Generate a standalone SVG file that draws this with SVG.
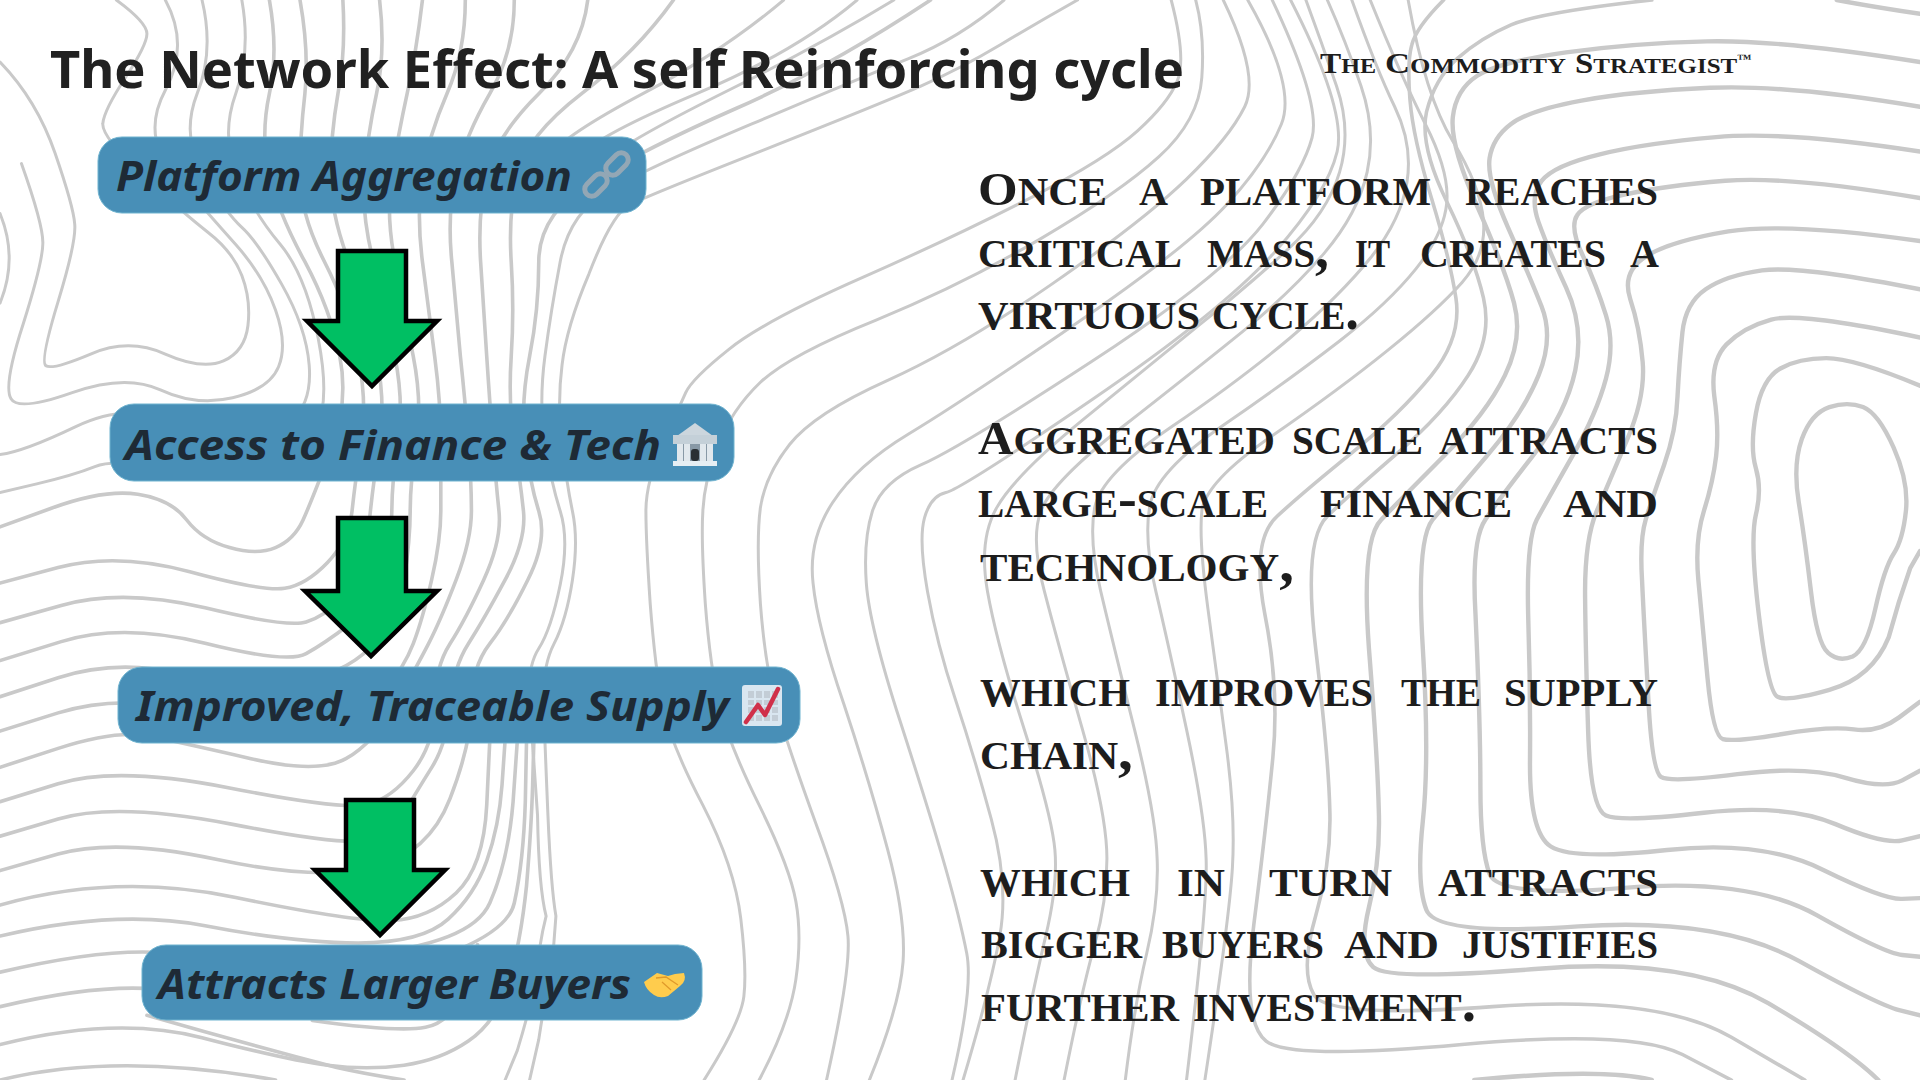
<svg xmlns="http://www.w3.org/2000/svg" width="1920" height="1080" viewBox="0 0 1920 1080">
<style>
.bgl{fill:none;stroke:#c9c9c9;stroke-width:3;vector-effect:non-scaling-stroke;stroke-linecap:round}
.k{stroke-width:3.6}
.h{stroke-width:4.4}
.t{font-family:"Noto Sans","Open Sans",sans-serif;font-weight:700;fill:#212121}
.lab{font-family:"Noto Sans","Open Sans",sans-serif;font-weight:700;font-style:italic;font-size:41px;fill:#1e2a35}
.box{fill:#488fb7;stroke:#6fb3cf;stroke-width:1}
.arr{fill:#00bf63;stroke:#000;stroke-width:4.5;stroke-linejoin:miter}
.b{font-family:"Liberation Serif",serif;font-weight:700;font-size:56px;font-variant:small-caps;fill:#1d1d1d}
.c{font-size:47px}
.br{font-family:"Liberation Serif",serif;font-weight:700;font-size:32px;font-variant:small-caps;fill:#1d1d1d}
.bc{font-size:29px}
.tm{font-size:13px}
</style>
<rect width="1920" height="1080" fill="#fff"/>
<g id="background" transform="scale(0.61224,0.34439)">
<path class="bgl" d="M190 0Q240 65 240 98 240 130 205 225 170 320 168 358 165 395 232 508 300 620 340 675 380 730 395 800 410 870 405 945 400 1020 365 1048 330 1075 270 1028 210 980 148 1028 85 1075 75 1062 65 1050 95 875 125 700 122 650 120 600 90 445 60 290 0 180"/>
<path class="bgl" d="M270 0Q310 130 270 262 230 395 285 508 340 620 385 710 430 800 450 900 470 1000 455 1065 440 1130 380 1155 320 1180 262 1132 205 1085 118 1140 30 1195 18 1158 5 1120 38 940 70 760 70 705 70 650 35 475 0 300"/>
<path class="bgl" d="M0 620Q30 750 0 880"/>
<path class="bgl" d="M330 0Q350 150 322 272 295 395 332 508 370 620 395 660 420 700 460 825 500 950 505 1060 510 1170 475 1225 440 1280 380 1275 320 1270 262 1220 205 1170 122 1240 40 1310 0 1320"/>
<path class="bgl" d="M395 0Q410 150 385 272 360 395 388 508 415 620 458 710 500 800 520 985 540 1170 515 1250 490 1330 435 1365 380 1400 285 1365 190 1330 155 1355 120 1380 60 1405L0 1430"/>
<path class="bgl k" d="M440 0Q455 150 440 272 425 395 440 508 455 620 498 760 540 900 555 1035 570 1170 540 1310 510 1450 495 1510 480 1568 450 1590 420 1613 375 1590 330 1568 305 1510 280 1450 225 1435 170 1420 85 1475L0 1530"/>
<path class="bgl k" d="M490 0Q505 150 498 272 490 395 490 508 490 620 530 760 570 900 585 1035 600 1170 590 1285 580 1400 575 1484 570 1568 535 1633 500 1698 465 1708 430 1718 310 1660 190 1603 95 1648L0 1693"/>
<path class="bgl k" d="M560 0Q565 150 552 272 540 395 540 508 540 620 570 760 600 900 615 1035 630 1170 620 1285 610 1400 605 1484 600 1568 595 1624 590 1680 560 1735 530 1790 500 1806 470 1823 335 1765 200 1708 100 1758L0 1808"/>
<path class="bgl k" d="M620 0Q630 150 615 272 600 395 595 508 590 620 610 760 630 900 645 1035 660 1170 650 1285 640 1400 640 1484 640 1568 625 1664 610 1760 570 1814 530 1868 500 1898 470 1928 335 1868 200 1808 100 1863L0 1918"/>
<path class="bgl k" d="M690 0Q680 150 665 272 650 395 640 508 630 620 645 760 660 900 675 1035 690 1170 680 1285 670 1400 670 1484 670 1568 660 1684 650 1800 605 1880 560 1960 480 1980 400 2000 295 1956 190 1913 95 1968L0 2023"/>
<path class="bgl k" d="M760 0Q760 150 730 272 700 395 690 508 680 620 690 760 700 900 710 1035 720 1170 720 1285 720 1400 720 1484 720 1568 705 1684 690 1800 675 1869 660 1938 630 2000 600 2060 500 2080 400 2100 295 2059 190 2018 95 2070L0 2123"/>
<path class="bgl k" d="M840 0Q840 150 800 272 760 395 745 508 730 620 738 760 745 900 752 1035 760 1170 765 1285 770 1400 770 1484 770 1568 745 1684 720 1800 700 1869 680 1938 645 2048 610 2158 565 2203 520 2248 410 2203 300 2158 245 2138 190 2118 95 2173L0 2228"/>
<path class="bgl k" d="M960 0Q950 150 880 272 810 395 795 508 780 620 785 760 790 900 795 1035 800 1170 805 1285 810 1400 815 1484 820 1568 790 1684 760 1800 735 1869 710 1938 710 2048 710 2158 675 2238 640 2318 600 2336 560 2353 375 2288 190 2223 95 2276L0 2328"/>
<path class="bgl k" d="M1100 0Q1040 150 950 272 860 395 845 508 830 620 835 760 840 900 835 1035 830 1170 840 1285 850 1400 855 1484 860 1568 825 1684 790 1800 765 1869 740 1938 735 2048 730 2158 705 2229 680 2300 660 2360 640 2420 602 2439 565 2458 378 2393 190 2328 95 2378L0 2428"/>
<path class="bgl k" d="M1520 0Q1350 200 1202 315 1055 430 968 525 880 620 880 760 880 900 865 1035 850 1170 858 1285 865 1400 880 1484 895 1568 862 1684 830 1800 800 1869 770 1938 770 2048 770 2158 735 2319 700 2480 610 2519 520 2558 355 2496 190 2433 95 2480L0 2528"/>
<path class="bgl" d="M1640 0Q1568 110 1484 170 1400 230 1228 360 1055 490 992 555 930 620 915 760 900 900 890 1035 880 1170 890 1285 900 1400 915 1484 930 1568 915 1698 900 1828 880 1883 860 1938 865 2048 870 2158 878 2368 880 2578 892 2660 880 2743 875 2853 860 2963 845 3050L825 3136"/>
<path class="bgl" d="M1760 0Q1700 60 1634 130 1568 200 1504 250 1440 300 1248 435 1055 570 1028 595 1000 620 962 795 925 950 918 1060 910 1170 918 1285 925 1400 935 1484 945 1568 935 1684 925 1800 905 1869 885 1938 888 2048 890 2158 895 2368 900 2578 908 2660 905 2743 900 2822 890 2900 880 3018L865 3136"/>
<path class="bgl" d="M1280 0Q1180 150 1050 272 920 395 900 450"/>
<path class="bgl" d="M1400 0Q1300 150 1138 272 975 395 950 450"/>
<path class="bgl" d="M1460 0Q1340 130 1190 262 1040 395 1000 450"/>
<path class="bgl" d="M1150 3136Q1210 2968 1215 2893 1220 2818 1210 2668 1200 2518 1148 2338 1095 2158 1082 2048 1070 1938 1062 1753 1055 1568 1055 1484 1055 1400 1082 1290 1110 1180 1120 1140 1130 1100 1190 1015 1250 930 1410 805 1568 680 1688 570 1808 460 1858 380 1908 300 1923 235 1938 170 1913 0"/>
<path class="bgl" d="M1240 3136Q1290 2968 1300 2843 1310 2718 1300 2618 1290 2518 1240 2338 1190 2158 1175 2048 1160 1938 1152 1753 1145 1568 1148 1484 1150 1400 1172 1295 1195 1190 1242 1110 1290 1030 1430 930 1568 830 1698 695 1828 560 1893 455 1958 350 1963 225 1968 100 1953 0"/>
<path class="bgl" d="M1350 3136Q1390 2818 1385 2718 1380 2618 1332 2388 1285 2158 1268 2048 1250 1938 1242 1753 1235 1568 1242 1474 1250 1380 1290 1290 1330 1200 1449 1105 1568 1010 1718 825 1868 640 1938 520 2008 400 2033 310 2058 220 1998 0"/>
<path class="bgl" d="M1420 3136Q1470 2918 1475 2793 1480 2668 1450 2468 1420 2268 1378 2043 1335 1818 1328 1693 1320 1568 1360 1459 1400 1350 1484 1260 1568 1170 1753 945 1938 720 2003 595 2068 470 2093 360 2118 250 2038 0"/>
<path class="bgl" d="M1555 3136Q1590 2868 1579 2768 1568 2668 1544 2518 1520 2368 1470 2093 1420 1818 1415 1693 1410 1568 1425 1484 1440 1400 1504 1350 1568 1300 1783 1050 1998 800 2063 650 2128 500 2143 400 2158 300 2078 0"/>
<path class="bgl" d="M1573 3136Q1618 2868 1633 2718 1648 2568 1619 2378 1590 2188 1560 2028 1530 1868 1515 1718 1500 1568 1510 1504 1520 1440 1545 1430 1570 1420 1784 1160 1998 900 2083 730 2168 560 2184 440 2200 320 2108 0"/>
<path class="bgl" d="M1658 3136Q1688 2868 1708 2718 1728 2568 1723 2468 1718 2368 1673 2118 1628 1868 1613 1718 1598 1568 1628 1474 1658 1380 1768 1220 1878 1060 1958 945 2038 830 2103 725 2168 620 2188 500 2208 380 2183 250 2158 120 2133 0"/>
<path class="bgl" d="M1738 3136Q1768 2868 1788 2743 1808 2618 1808 2493 1808 2368 1768 2118 1728 1868 1706 1718 1683 1568 1700 1484 1718 1400 1833 1240 1948 1080 2028 965 2108 850 2163 735 2218 620 2233 500 2248 380 2223 250 2198 120 2168 0"/>
<path class="bgl" d="M1838 3136Q1853 2918 1873 2768 1893 2618 1890 2493 1888 2368 1853 2118 1818 1868 1798 1718 1778 1568 1788 1474 1798 1380 1913 1240 2028 1100 2108 980 2188 860 2238 750 2288 640 2298 530 2308 420 2278 310 2248 200 2208 0"/>
<path class="bgl" d="M1938 3136Q1973 2618 1970 2493 1968 2368 1938 2118 1908 1868 1888 1718 1868 1568 1878 1469 1888 1370 1998 1235 2108 1100 2188 990 2268 880 2313 780 2358 680 2363 590 2368 500 2328 360 2288 220 2238 0"/>
<path class="bgl" d="M1968 3136Q2008 2668 2013 2518 2018 2368 2003 2168 1988 1968 1973 1768 1958 1568 1963 1484 1968 1400 2078 1265 2188 1130 2268 1015 2348 900 2388 820 2428 740 2423 640 2418 540 2373 410 2328 280 2300 0"/>
<path class="bgl k" d="M2358 0Q2313 80 2306 130 2298 180 2303 290 2308 400 2338 575 2368 750 2378 865 2388 980 2338 1090 2288 1200 2208 1315 2128 1430 2086 1499 2043 1568 2066 1784 2090 2000 2079 2200 2068 2400 2048 2684 2028 2968 2068 3023 2108 3078 2388 3033 2668 2988 2748 3062L2828 3136"/>
<path class="bgl k" d="M2698 0Q2518 35 2468 72 2418 110 2380 170 2343 230 2330 325 2318 420 2363 585 2408 750 2423 865 2438 980 2398 1090 2358 1200 2283 1315 2208 1430 2168 1499 2128 1568 2149 1884 2170 2200 2172 2350 2175 2500 2149 2659 2123 2818 2146 2888 2168 2958 2438 2923 2708 2888 2828 3012L2948 3136"/>
<path class="bgl h" d="M3136 180Q2908 115 2788 120 2668 125 2558 152 2448 180 2413 220 2378 260 2373 340 2368 420 2413 600 2458 780 2473 880 2488 980 2458 1090 2428 1200 2358 1325 2288 1450 2256 1509 2223 1568 2236 1884 2250 2200 2252 2350 2255 2500 2236 2634 2218 2768 2243 2808 2268 2848 2513 2813 2758 2778 2888 2913 3018 3048 3068 3136"/>
<path class="bgl h" d="M3136 310Q2918 245 2793 255 2668 265 2583 292 2498 320 2468 360 2438 400 2433 460 2428 520 2463 660 2498 800 2518 890 2538 980 2513 1090 2488 1200 2428 1325 2368 1450 2340 1509 2313 1568 2324 1884 2335 2200 2324 2384 2313 2568 2330 2643 2348 2718 2578 2690 2808 2663 2938 2790 3068 2918 3102 2933L3136 2948"/>
<path class="bgl h" d="M3136 440Q2918 380 2803 398 2688 415 2613 448 2538 480 2518 525 2498 570 2513 645 2528 720 2558 835 2588 950 2573 1075 2558 1200 2503 1325 2448 1450 2426 1509 2403 1568 2410 1784 2418 2100 2418 2284 2418 2468 2433 2538 2448 2608 2653 2578 2858 2548 2968 2658 3078 2768 3107 2773L3136 2778"/>
<path class="bgl h" d="M3136 575Q2918 510 2818 525 2718 540 2653 565 2588 590 2576 625 2563 660 2586 745 2608 830 2623 915 2638 1000 2623 1100 2608 1200 2568 1325 2528 1450 2510 1509 2493 1568 2496 1784 2500 2000 2499 2209 2498 2418 2533 2458 2568 2498 2723 2468 2878 2438 2978 2526 3078 2613 3107 2610L3136 2608"/>
<path class="bgl h" d="M3136 700Q2918 645 2823 672 2728 700 2688 745 2648 790 2663 870 2678 950 2683 1050 2688 1150 2658 1275 2628 1400 2608 1484 2588 1568 2589 1734 2590 1900 2594 2124 2598 2348 2623 2368 2648 2388 2783 2360 2918 2333 2998 2393 3078 2453 3107 2440L3136 2428"/>
<path class="bgl h" d="M3136 840Q2938 770 2878 785 2818 800 2786 840 2753 880 2748 965 2743 1050 2740 1150 2738 1250 2718 1350 2698 1450 2688 1509 2678 1568 2682 1684 2685 1800 2692 2019 2698 2238 2713 2256 2728 2273 2838 2248 2948 2223 3013 2258 3078 2293 3107 2266L3136 2238"/>
<path class="bgl h" d="M3136 980Q2938 905 2893 928 2848 950 2820 1000 2793 1050 2800 1150 2808 1250 2803 1325 2798 1400 2783 1484 2768 1568 2774 1684 2780 1800 2789 1969 2798 2138 2814 2146 2830 2155 2909 2132 2988 2108 3028 2118 3068 2128 3102 2083L3136 2038"/>
<path class="bgl h" d="M3136 1120Q3028 1040 2983 1040 2938 1040 2908 1070 2878 1100 2868 1200 2858 1300 2868 1360 2878 1420 2868 1494 2858 1568 2873 1788 2888 2008 2903 2023 2918 2038 2988 2003 3058 1968 3085 1850 3100 1750 3120 1650L3136 1600"/>
<path class="bgl h" d="M3043 1182Q3018 1165 2988 1182 2958 1200 2943 1275 2928 1350 2938 1459 2948 1568 2958 1718 2968 1868 2986 1896 3003 1923 3026 1906 3048 1888 3063 1768 3078 1648 3093 1608 3108 1568 3113 1484 3118 1400 3093 1300 3068 1200 3043 1182Z"/>
<path class="bgl h" d="M3136 40Q3060 20 3000 0"/>
<path class="bgl h" d="M2408 3136Q2618 3100 2698 3136"/>
<path class="bgl k" d="M0 2628Q190 2533 385 2606 580 2678 640 2673 700 2668 745 2593 790 2518 795 2338L800 2150"/>
<path class="bgl k" d="M0 2718Q190 2638 335 2688 480 2738 585 2738 690 2738 732 2669 775 2600 795 2500 815 2400 820 2279L825 2150"/>
<path class="bgl k" d="M0 2823Q190 2743 295 2772 400 2800 585 2772 770 2743 800 2622 830 2500 838 2329L845 2150"/>
<path class="bgl k" d="M0 2923Q190 2843 295 2882 400 2920 612 2832 825 2743 840 2622 855 2500 858 2329L860 2150"/>
<path class="bgl k" d="M0 3033Q190 2948 330 3013 470 3078 535 3093 600 3108 660 3093 720 3078 765 3023 810 2968 830 2856 850 2743 860 2572 868 2400 870 2279L872 2150"/>
<path class="bgl k" d="M0 3136Q190 3053 450 3136"/>
<path class="bgl k" d="M510 2963Q650 2998 695 2983 740 2968 760 2856L780 2743"/>
<path class="bgl k" d="M240 2948Q400 3030 550 3100 600 3120 660 3136"/>
</g>
<g id="title"><text class="t" x="50" y="88" font-size="52" textLength="1134" lengthAdjust="spacingAndGlyphs">The Network Effect: A self Reinforcing cycle</text></g>
<g id="brand"><text class="br" y="73"><tspan x="1320" textLength="56" lengthAdjust="spacingAndGlyphs"><tspan class="bc">T</tspan>he</tspan> <tspan x="1385" textLength="181" lengthAdjust="spacingAndGlyphs"><tspan class="bc">C</tspan>ommodity</tspan> <tspan x="1575" textLength="177" lengthAdjust="spacingAndGlyphs"><tspan class="bc">S</tspan>trategist<tspan class="tm" dy="-10">™</tspan></tspan></text></g>
<g id="connectors">
<path class="arr" d="M338 251H406V321H437L372 386 307 321H338Z"/>
<path class="arr" d="M338 518H406V591H437L371 656 305 591H338Z"/>
<path class="arr" d="M346 800H414V870H445L380 935 315 870H346Z"/>
</g>
<g id="node-platform">
<rect class="box" x="98" y="137" width="548" height="76" rx="24"/>
<text class="lab" x="116" y="191" textLength="456" lengthAdjust="spacingAndGlyphs">Platform Aggregation</text>
<g fill="none" stroke="#93a7b5" stroke-width="5"><rect x="604" y="157" width="26" height="14" rx="7" transform="rotate(-45 617 164)"/><rect x="583" y="178" width="26" height="14" rx="7" transform="rotate(-45 596 185)"/></g>
</g>
<g id="node-finance">
<rect class="box" x="110" y="404" width="624" height="77" rx="24"/>
<text class="lab" x="125" y="460" textLength="536" lengthAdjust="spacingAndGlyphs">Access to Finance &amp; Tech</text>
<path d="M695 423L677 436H713Z" fill="#ccd6dd"/><rect x="673" y="435" width="44" height="9" fill="#c4d0d8"/><rect x="677" y="444" width="36" height="17" fill="#8899a6"/><rect x="677" y="444" width="6" height="17" fill="#e1e8ed"/><rect x="684" y="444" width="6" height="17" fill="#e1e8ed"/><rect x="700" y="444" width="6" height="17" fill="#e1e8ed"/><rect x="707" y="444" width="6" height="17" fill="#e1e8ed"/><rect x="691" y="449" width="8" height="12" rx="3" fill="#292f33"/><rect x="673" y="461" width="44" height="5" fill="#e6eef3"/>
</g>
<g id="node-supply">
<rect class="box" x="118" y="667" width="682" height="76" rx="24"/>
<text class="lab" x="136" y="721" textLength="593" lengthAdjust="spacingAndGlyphs">Improved, Traceable Supply</text>
<rect x="742" y="685" width="40" height="41" rx="3" fill="#d9e6f0"/><path d="M748 691h30v30h-30z" fill="#c3cdd6"/><path d="M755 691v30M763 691v30M771 691v30M748 699h30M748 706h30M748 714h30" stroke="#d9e6f0" stroke-width="2"/>
<path d="M746 722L758 705 765 715 778 689" fill="none" stroke="#d0304a" stroke-width="4.5" stroke-linecap="round" stroke-linejoin="round"/>
</g>
<g id="node-buyers">
<rect class="box" x="142" y="945" width="560" height="75" rx="24"/>
<text class="lab" x="158" y="999" textLength="473" lengthAdjust="spacingAndGlyphs">Attracts Larger Buyers</text>
<path d="M644 982L657 973 668 976 675 974 684 973Q687 981 680 986L668 996Q660 999 654 995 646 990 644 982Z" fill="#ffcc4d"/><path d="M656 978L666 977 678 985M662 982L671 990" fill="none" stroke="#e09a2b" stroke-width="1.3"/>
</g>
<g id="body">
<text class="b" y="205"><tspan x="978" textLength="129" lengthAdjust="spacingAndGlyphs"><tspan class="c">O</tspan>nce</tspan> <tspan x="1139" textLength="29" lengthAdjust="spacingAndGlyphs">a</tspan> <tspan x="1200" textLength="231" lengthAdjust="spacingAndGlyphs">platform</tspan> <tspan x="1465" textLength="193" lengthAdjust="spacingAndGlyphs">reaches</tspan></text>
<text class="b" y="267"><tspan x="978" textLength="204" lengthAdjust="spacingAndGlyphs">critical</tspan> <tspan x="1207" textLength="122" lengthAdjust="spacingAndGlyphs">mass,</tspan> <tspan x="1355" textLength="35" lengthAdjust="spacingAndGlyphs">it</tspan> <tspan x="1420" textLength="186" lengthAdjust="spacingAndGlyphs">creates</tspan> <tspan x="1630" textLength="29" lengthAdjust="spacingAndGlyphs">a</tspan></text>
<text class="b" y="329"><tspan x="978" textLength="222" lengthAdjust="spacingAndGlyphs">virtuous</tspan> <tspan x="1212" textLength="147" lengthAdjust="spacingAndGlyphs">cycle.</tspan></text>
<text class="b" y="454"><tspan x="978" textLength="297" lengthAdjust="spacingAndGlyphs"><tspan class="c">A</tspan>ggregated</tspan> <tspan x="1292" textLength="131" lengthAdjust="spacingAndGlyphs">scale</tspan> <tspan x="1439" textLength="219" lengthAdjust="spacingAndGlyphs">attracts</tspan></text>
<text class="b" y="517"><tspan x="978" textLength="290" lengthAdjust="spacingAndGlyphs">large-scale</tspan> <tspan x="1320" textLength="192" lengthAdjust="spacingAndGlyphs">finance</tspan> <tspan x="1563" textLength="95" lengthAdjust="spacingAndGlyphs">and</tspan></text>
<text class="b" y="581"><tspan x="980" textLength="314" lengthAdjust="spacingAndGlyphs">technology,</tspan></text>
<text class="b" y="706"><tspan x="980" textLength="150" lengthAdjust="spacingAndGlyphs">which</tspan> <tspan x="1155" textLength="218" lengthAdjust="spacingAndGlyphs">improves</tspan> <tspan x="1401" textLength="80" lengthAdjust="spacingAndGlyphs">the</tspan> <tspan x="1504" textLength="154" lengthAdjust="spacingAndGlyphs">supply</tspan></text>
<text class="b" y="769"><tspan x="980" textLength="153" lengthAdjust="spacingAndGlyphs">chain,</tspan></text>
<text class="b" y="896"><tspan x="980" textLength="150" lengthAdjust="spacingAndGlyphs">which</tspan> <tspan x="1177" textLength="48" lengthAdjust="spacingAndGlyphs">in</tspan> <tspan x="1269" textLength="123" lengthAdjust="spacingAndGlyphs">turn</tspan> <tspan x="1438" textLength="220" lengthAdjust="spacingAndGlyphs">attracts</tspan></text>
<text class="b" y="958"><tspan x="981" textLength="161" lengthAdjust="spacingAndGlyphs">bigger</tspan> <tspan x="1162" textLength="162" lengthAdjust="spacingAndGlyphs">buyers</tspan> <tspan x="1344" textLength="95" lengthAdjust="spacingAndGlyphs">and</tspan> <tspan x="1462" textLength="196" lengthAdjust="spacingAndGlyphs">justifies</tspan></text>
<text class="b" y="1021"><tspan x="981" textLength="198" lengthAdjust="spacingAndGlyphs">further</tspan> <tspan x="1193" textLength="283" lengthAdjust="spacingAndGlyphs">investment.</tspan></text>
</g>
</svg>
